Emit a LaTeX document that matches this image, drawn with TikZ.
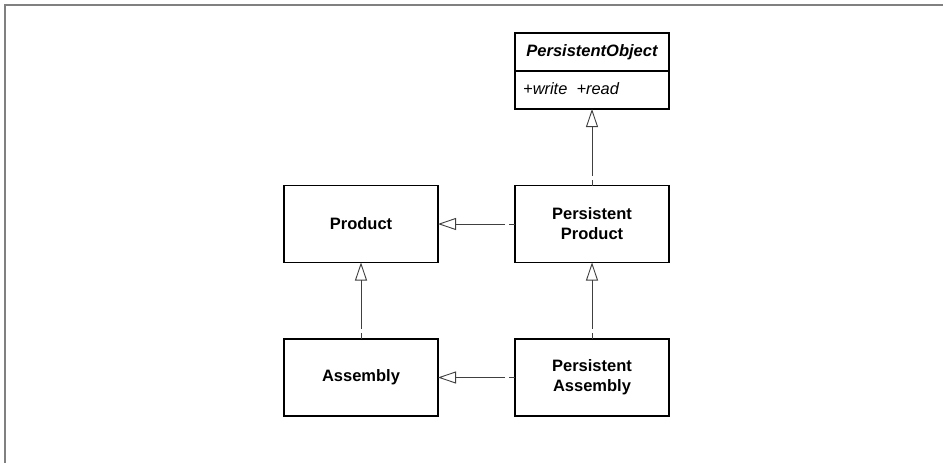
\documentclass[tikz,border=0pt]{standalone}
\usepackage{fontspec}
\setmainfont{Liberation Sans}
\usetikzlibrary{arrows.meta}

\begin{document}
\begin{tikzpicture}[x=1pt,y=-1pt,
  cls/.style={draw=black,line width=1.3pt,minimum width=154pt,minimum height=77pt,
    inner sep=0pt,outer sep=0pt,align=center,font=\fontsize{16.5}{20}\selectfont\bfseries},
  inherit/.style={draw=black!75,line width=0.9pt,dash pattern=on 6pt off 4pt on 600pt,
    -{Triangle[open,length=18pt,width=12pt,line width=0.9pt]}}]
\useasboundingbox (0,0) rectangle (943,463);
\draw[black!50,line width=2pt] (5,463) -- (5,5) -- (943,5);
\node[cls] (product) at (361,224) {Product};
\node[cls] (assembly) at (361,377.5) {Assembly};
\node[cls] (pproduct) at (592,224) {Persistent\\Product};
\node[cls] (passembly) at (592,377.5) {Persistent\\Assembly};
\node[cls,minimum height=76pt] (pobject) at (592,71) {};
\draw[black,line width=1.3pt] (pobject.west) -- (pobject.east);
\node[font=\fontsize{16.5}{20}\selectfont\bfseries\itshape] (ptitle) at (592,52) {PersistentObject};
\node[anchor=west,inner sep=0pt,font=\fontsize{16.4}{20}\selectfont\itshape] (pops) at (523,89) {+write\ \ +read};
\draw[inherit] (pproduct.north) -- (pobject.south);
\draw[inherit] (pproduct.west) -- (product.east);
\draw[inherit] (assembly.north) -- (product.south);
\draw[inherit] (passembly.north) -- (pproduct.south);
\draw[inherit] (passembly.west) -- (assembly.east);
\end{tikzpicture}
\end{document}
